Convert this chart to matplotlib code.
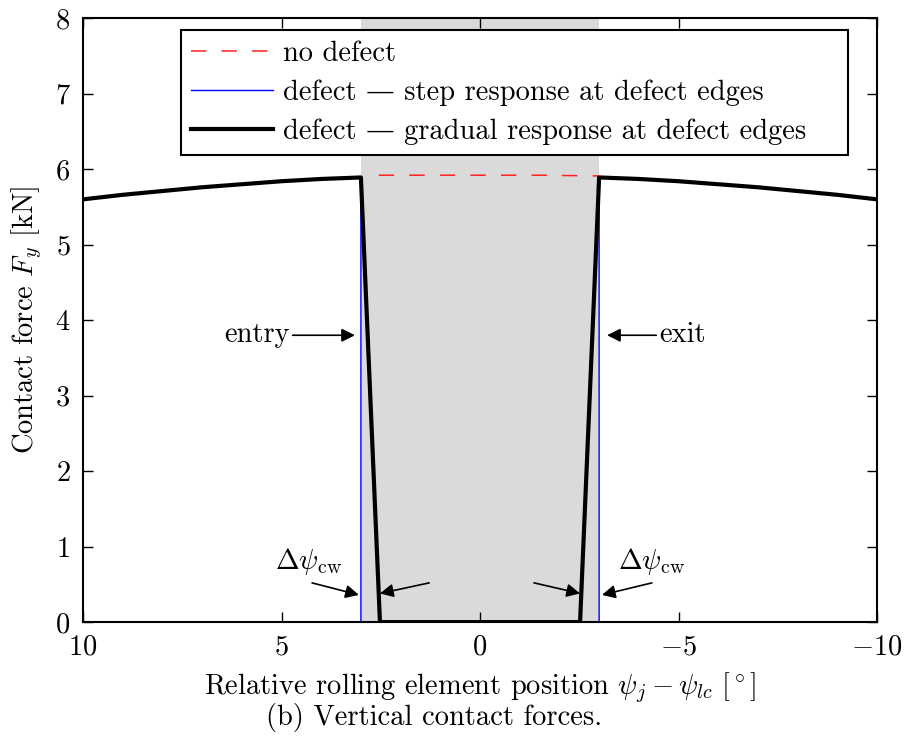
import matplotlib
matplotlib.use("Agg")
import matplotlib.pyplot as plt

plt.rcParams['font.family'] = ['cmr10', 'DejaVu Serif']
plt.rcParams['mathtext.fontset'] = 'cm'
plt.rcParams['axes.formatter.use_mathtext'] = True
plt.rcParams['font.size'] = 20.5

# contact force [kN] vs relative rolling element position [deg]
psi_nodefect = [2.55, 1.5, 0.0, -1.5, -3.0]
F_nodefect = [5.92, 5.92, 5.92, 5.92, 5.91]

psi_step = [10, 9, 8, 7, 6, 5, 4, 3, 3, -3, -3, -4, -5, -6, -7, -8, -9, -10]
F_step = [5.60, 5.66, 5.71, 5.76, 5.80, 5.84, 5.87, 5.89, 0.0,
          0.0, 5.89, 5.87, 5.84, 5.80, 5.76, 5.71, 5.66, 5.60]

psi_grad = [10, 9, 8, 7, 6, 5, 4, 3, 2.52, -2.52, -3, -4, -5, -6, -7, -8, -9, -10]
F_grad = [5.60, 5.66, 5.71, 5.76, 5.80, 5.84, 5.87, 5.89, 0.0,
          0.0, 5.89, 5.87, 5.84, 5.80, 5.76, 5.71, 5.66, 5.60]

defect_edges = [3.0, -3.0]

fig = plt.figure(figsize=(9.05, 7.38), dpi=100)
ax = fig.add_axes([0.0917, 0.157, 0.8774, 0.8184])

ax.axvspan(defect_edges[0], defect_edges[1], color='#dadada', lw=0, zorder=0)
ax.plot(psi_nodefect, F_nodefect, color='#ff2020', lw=1.1, dashes=(10, 10),
        label='no defect')
ax.plot(psi_step, F_step, color='#0000ff', lw=1,
        label='defect \u2014 step response at defect edges')
ax.plot(psi_grad, F_grad, color='k', lw=3,
        label='defect \u2014 gradual response at defect edges')

ax.set_xlim(10, -10)
ax.set_ylim(0, 8)
ax.set_xticks([10, 5, 0, -5, -10])
ax.set_yticks(range(0, 9))
ax.tick_params(direction='in', top=True, right=True, length=7, width=1, pad=9)
for s in ax.spines.values():
    s.set_linewidth(1.5)

ax.set_xlabel(r'Relative rolling element position $\psi_j - \psi_{lc}\ [^\circ]$',
              labelpad=7)
ax.set_ylabel(r'Contact force $F_y$ [kN]', labelpad=8)

leg = ax.legend(loc='upper left', bbox_to_anchor=(0.123, 0.768, 0.84, 0.212),
                mode='expand', handlelength=2.9,
                fancybox=False, framealpha=1, borderaxespad=0,
                handletextpad=0.35, labelspacing=0.45, borderpad=0.35)
leg.get_frame().set_edgecolor('k')
leg.get_frame().set_linewidth(1.5)

arr = dict(arrowstyle='-|>', color='k', lw=1.2, mutation_scale=20,
           shrinkA=0, shrinkB=0)
ax.annotate('entry', xy=(3.15, 3.8), xytext=(4.79, 3.8), ha='right',
            va='center', arrowprops=arr)
ax.annotate('exit', xy=(-3.2, 3.8), xytext=(-4.51, 3.8), ha='left',
            va='center', arrowprops=arr)

ax.text(4.33, 0.8, r'$\Delta\psi_{\mathrm{cw}}$', ha='center', va='center')
ax.text(-4.33, 0.8, r'$\Delta\psi_{\mathrm{cw}}$', ha='center', va='center')
ax.annotate('', xy=(3.05, 0.36), xytext=(4.23, 0.52), arrowprops=arr)
ax.annotate('', xy=(2.52, 0.38), xytext=(1.28, 0.52), arrowprops=arr)
ax.annotate('', xy=(-2.52, 0.38), xytext=(-1.36, 0.52), arrowprops=arr)
ax.annotate('', xy=(-3.07, 0.36), xytext=(-4.33, 0.52), arrowprops=arr)

fig.text(0.48, 0.028, '(b) Vertical contact forces.', ha='center', va='center')

fig.savefig('out.png', dpi=100)
